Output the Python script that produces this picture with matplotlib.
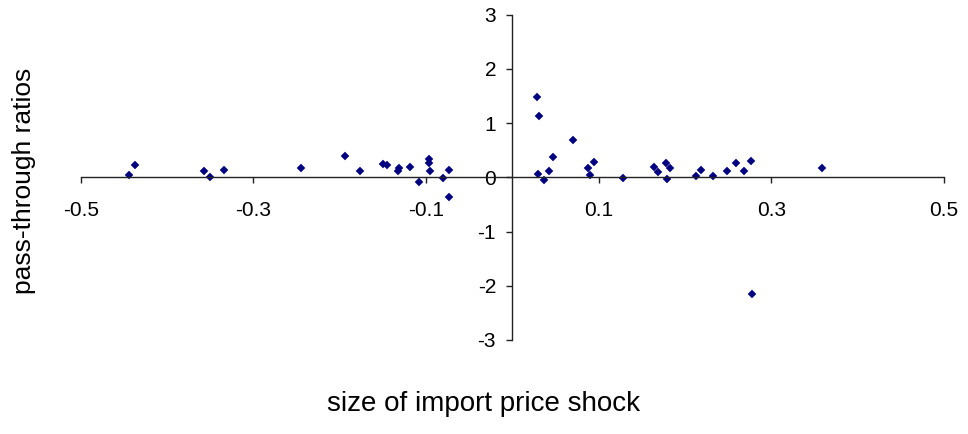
import matplotlib.pyplot as plt

plt.rcParams["font.family"] = ["Liberation Sans", "DejaVu Sans"]
plt.rcParams["axes.unicode_minus"] = False

# size of import price shock (x) and pass-through ratio (y)
shock = [
    -0.444, -0.437, -0.357, -0.350, -0.334,
    -0.245, -0.194, -0.176, -0.150, -0.145, -0.132, -0.131, -0.119,
    -0.108, -0.097, -0.097, -0.095, -0.080, -0.073, -0.074,
    0.028, 0.031, 0.030, 0.036, 0.042, 0.047, 0.070, 0.087, 0.090,
    0.095, 0.128, 0.164, 0.169, 0.178, 0.183, 0.179, 0.212, 0.218,
    0.232, 0.249, 0.259, 0.268, 0.276, 0.358, 0.278,
]
ratio = [
    0.05, 0.22, 0.11, 0.00, 0.14,
    0.17, 0.39, 0.11, 0.24, 0.22, 0.12, 0.17, 0.19,
    -0.09, 0.33, 0.26, 0.12, -0.01, 0.13, -0.37,
    1.48, 1.14, 0.07, -0.04, 0.12, 0.38, 0.69, 0.18, 0.05,
    0.28, -0.02, 0.20, 0.09, 0.26, 0.17, -0.03, 0.02, 0.14,
    0.02, 0.12, 0.26, 0.11, 0.31, 0.18, -2.16,
]

x_ticks = [-0.5, -0.3, -0.1, 0.1, 0.3, 0.5]
x_tick_labels = ["-0.5", "-0.3", "-0.1", "0.1", "0.3", "0.5"]
y_ticks = [-3, -2, -1, 0, 1, 2, 3]

fig = plt.figure(figsize=(9.68, 4.34), dpi=100)
ax = fig.add_axes([0.0834, 0.2166, 0.892, 0.7495])

ax.plot(shock, ratio, linestyle="none", marker="D", markersize=3.8,
        color="#000080", markeredgewidth=0.3)

ax.set_xlim(-0.5, 0.5)
ax.set_ylim(-3, 3)

for side in ("top", "right"):
    ax.spines[side].set_visible(False)
ax.spines["left"].set_position(("data", 0))
ax.spines["bottom"].set_position(("data", 0))
for side in ("left", "bottom"):
    ax.spines[side].set_linewidth(1.0)
    ax.spines[side].set_color("#222222")

ax.set_xticks(x_ticks)
ax.set_xticklabels(x_tick_labels)
ax.set_yticks(y_ticks)
ax.set_yticklabels([str(v) for v in y_ticks])

ax.tick_params(axis="x", direction="out", length=4.3, width=1.0,
               color="#222222", labelsize=15, pad=12.5)
ax.tick_params(axis="y", direction="out", length=4.3, width=1.0,
               color="#222222", labelsize=15, pad=7.5)

ax.set_xlabel("size of import price shock", fontsize=20, va="center")
ax.xaxis.set_label_coords(0.467, -0.197)
ax.set_ylabel("pass-through ratios", fontsize=19, va="center")
ax.yaxis.set_label_coords(-0.0657, 0.49)

fig.savefig("out.png", dpi=100)
